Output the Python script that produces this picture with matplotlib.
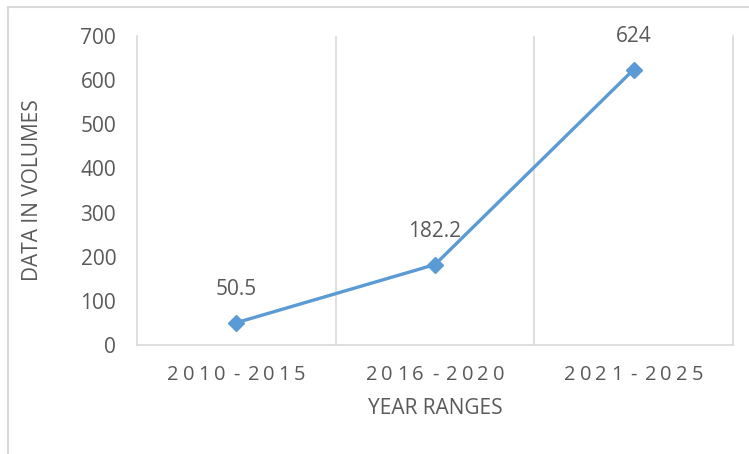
import matplotlib.pyplot as plt
from matplotlib.patches import Rectangle
from matplotlib.font_manager import FontProperties, findfont, get_font

# data
year_ranges = ["2010 - 2015", "2016 - 2020", "2021 - 2025"]
volumes = [50.5, 182.2, 624]
value_labels = ["50.5", "182.2", "624"]
y_ticks = [0, 100, 200, 300, 400, 500, 600, 700]

LINE_BLUE = "#5B9BD5"
TEXT_GRAY = "#595959"
GRID_GRAY = "#D9D9D9"
DPI = 100

plt.rcParams['font.family'] = ['Open Sans', 'DejaVu Sans']

fig = plt.figure(figsize=(7.49, 4.54), dpi=DPI)
W, H = 749, 454

# outer chart border (top and left edges visible, runs off the image on the other sides)
fig.patches.append(Rectangle((8 / W, -0.05), 1.2, 447 / H + 0.05,
                             transform=fig.transFigure, fill=False,
                             edgecolor=GRID_GRAY, linewidth=1.5))

ax = fig.add_axes([137 / W, 109 / H, (733 - 137) / W, (345 - 36) / H])

x = list(range(len(year_ranges)))
ax.plot(x, volumes, color=LINE_BLUE, linewidth=2.4, marker="D",
        markersize=8, markerfacecolor=LINE_BLUE, markeredgecolor=LINE_BLUE,
        zorder=3)

for xi, v, lab in zip(x, volumes, value_labels):
    ax.annotate(lab, (xi, v), xytext=(0, 24), textcoords="offset points",
                ha="center", va="center", fontsize=15, color=TEXT_GRAY)

ax.set_xlim(-0.5, len(year_ranges) - 0.5)
ax.set_ylim(0, 700)
ax.set_yticks(y_ticks)
ax.set_xticks(x)
ax.set_xticklabels([])

# vertical separators between categories
for b in [0.5, 1.5]:
    ax.axvline(b, color=GRID_GRAY, linewidth=1.2, zorder=1)

for side in ["left", "right", "bottom"]:
    ax.spines[side].set_color(GRID_GRAY)
    ax.spines[side].set_linewidth(1.2)
ax.spines["top"].set_visible(False)

ax.tick_params(axis="y", length=0, pad=15, labelsize=15, labelcolor=TEXT_GRAY)
ax.tick_params(axis="x", length=0)

# category labels with letter spacing, one glyph at a time
tick_size = 14.5
tracking = 4.0  # extra px between glyphs
prop = FontProperties(family="Open Sans", size=tick_size)
ft = get_font(findfont(prop))
ft.set_size(tick_size, DPI)


def advance(ch):
    if ch == " ":
        return 0.0
    g = ft.load_char(ord(ch))
    return g.linearHoriAdvance / 65536


for xi, lab in zip(x, year_ranges):
    widths = [advance(c) for c in lab]
    total = sum(widths) + tracking * (len(lab) - 1)
    pos = -total / 2
    for c, w in zip(lab, widths):
        if c != " ":
            ax.annotate(c, (xi, 0), xycoords=("data", "axes fraction"),
                        xytext=(pos * 72 / DPI, -35 * 72 / DPI),
                        textcoords="offset points", ha="left", va="baseline",
                        fontsize=tick_size, color=TEXT_GRAY,
                        annotation_clip=False)
        pos += w + tracking

ax.set_xlabel("YEAR RANGES", fontsize=15, color=TEXT_GRAY, va="center")
ax.xaxis.set_label_coords(0.5, (345 - 408.5) / 309)
ax.set_ylabel("DATA IN VOLUMES", fontsize=15, color=TEXT_GRAY, va="center")
ax.yaxis.set_label_coords((33 - 137) / 596, 0.5)

fig.savefig("out.png", dpi=DPI)
